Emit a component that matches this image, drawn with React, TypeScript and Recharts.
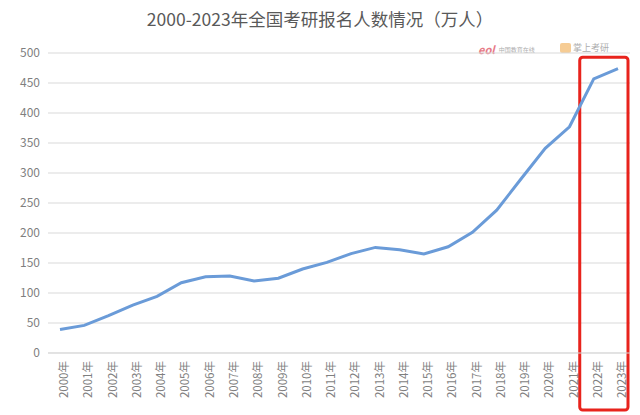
import React from "react";
import {
  LineChart,
  Line,
  XAxis,
  YAxis,
  CartesianGrid,
  ReferenceArea,
} from "recharts";

const years = [
  "2000年", "2001年", "2002年", "2003年", "2004年", "2005年", "2006年", "2007年",
  "2008年", "2009年", "2010年", "2011年", "2012年", "2013年", "2014年", "2015年",
  "2016年", "2017年", "2018年", "2019年", "2020年", "2021年", "2022年", "2023年",
];
const applicants = [
  39.2, 46, 62.4, 79.9, 94.5, 117.2, 127.1, 128.2, 120, 124.6, 140, 151.1,
  165.6, 176, 172, 164.9, 177, 201, 238, 290, 341, 377, 457, 474,
];
const yTicks = [0, 50, 100, 150, 200, 250, 300, 350, 400, 450, 500];
const title = "2000-2023年全国考研报名人数情况（万人）";

const data = years.map((year, i) => ({ year, value: applicants[i] }));

const font = "'Noto Sans CJK SC', 'Noto Sans', sans-serif";

// red highlight box drawn around the last two years, stretched past the plot
const HighlightBox = (props: any) => {
  const { x, y, width, height } = props;
  return (
    <rect
      x={x - 14}
      y={y}
      width={width + 24}
      height={height}
      rx={3}
      ry={3}
      fill="none"
      stroke="#e8231c"
      strokeWidth={3}
    />
  );
};

export default function App() {
  return (
    <div
      style={{
        position: "absolute",
        left: 0,
        top: 0,
        width: 640,
        height: 415,
        background: "#fff",
        fontFamily: font,
      }}
    >
      <div
        style={{
          position: "absolute",
          top: 6,
          width: 640,
          textAlign: "center",
          fontSize: 17.5,
          color: "#595959",
        }}
      >
        {title}
      </div>
      {/* watermark logos */}
      <div
        style={{
          position: "absolute",
          left: 478,
          top: 41,
          fontSize: 6,
          color: "#999",
          display: "flex",
          alignItems: "center",
          gap: 4,
          opacity: 0.8,
        }}
      >
        <span style={{ color: "#e25a6a", fontSize: 11, fontStyle: "italic", fontWeight: 700 }}>eol</span>
        <span>中国教育在线</span>
      </div>
      <div
        style={{
          position: "absolute",
          left: 560,
          top: 41,
          fontSize: 9,
          color: "#999",
          display: "flex",
          alignItems: "center",
          gap: 2,
          opacity: 0.8,
        }}
      >
        <span style={{ width: 11, height: 10, background: "#f5c07a", borderRadius: 2, display: "inline-block" }} />
        <span>掌上考研</span>
      </div>
      <LineChart
        width={640}
        height={415}
        data={data}
        margin={{ top: 53, right: 10, bottom: 0, left: 0 }}
        style={{ position: "absolute", left: 0, top: 0 }}
      >
        <CartesianGrid vertical={false} stroke="#d9d9d9" strokeWidth={1} />
        <XAxis
          dataKey="year"
          padding={{ left: 12, right: 12 }}
          axisLine={{ stroke: "#d9d9d9" }}
          tickLine={false}
          interval={0}
          height={62}
          angle={-90}
          textAnchor="end"
          tick={{ fill: "#7f7f7f", fontSize: 11.5, fontFamily: font }}
        />
        <YAxis
          domain={[0, 500]}
          ticks={yTicks}
          width={48}
          axisLine={false}
          tickLine={false}
          tick={{ fill: "#7f7f7f", fontSize: 12, fontFamily: font }}
        />
        <ReferenceArea
          x1="2022年"
          x2="2023年"
          y1={-95}
          y2={493}
          ifOverflow="visible"
          shape={HighlightBox}
        />
        <Line
          type="linear"
          dataKey="value"
          stroke="#6a9bd8"
          strokeWidth={3}
          dot={false}
          isAnimationActive={false}
        />
      </LineChart>
    </div>
  );
}
